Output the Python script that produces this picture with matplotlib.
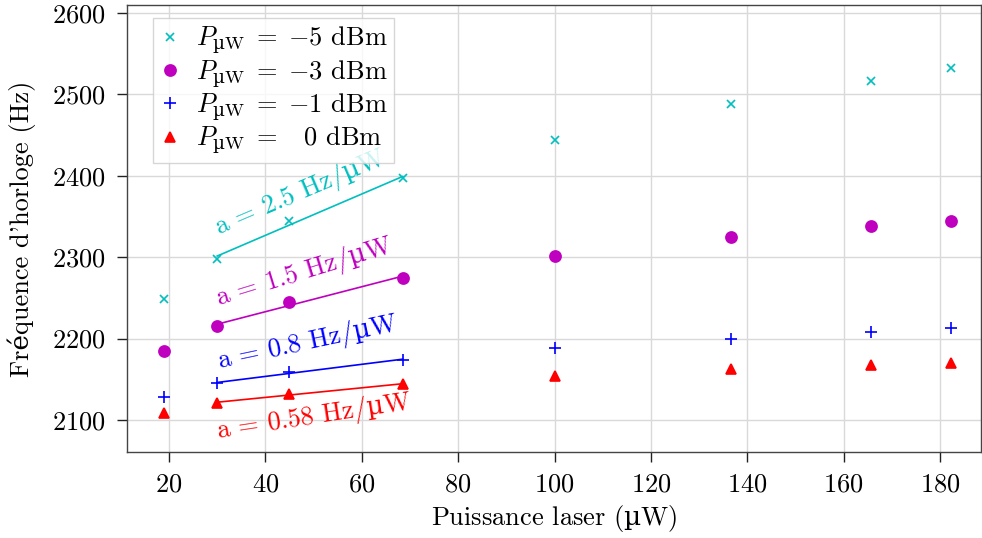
import numpy as np
import matplotlib
matplotlib.use("Agg")
import matplotlib.pyplot as plt

plt.rcParams['font.family'] = ['cmr10', 'DejaVu Serif']
plt.rcParams['mathtext.fontset'] = 'custom'
plt.rcParams['mathtext.rm'] = 'cmr10'
plt.rcParams['mathtext.it'] = 'cmmi10'
plt.rcParams['mathtext.bf'] = 'cmb10'
plt.rcParams['mathtext.cal'] = 'cmsy10'
plt.rcParams['mathtext.tt'] = 'cmtt10'
plt.rcParams['mathtext.sf'] = 'DejaVu Serif'
plt.rcParams['mathtext.fallback'] = 'cm'
plt.rcParams['axes.formatter.use_mathtext'] = True

# Data
power_uW = [19, 30, 45, 68.5, 100, 136.7, 165.6, 182.2]
f_m5 = [2248, 2298, 2345, 2397, 2444, 2488, 2516, 2532]
f_m3 = [2185, 2215, 2245, 2275, 2302, 2325, 2338, 2345]
f_m1 = [2128, 2145, 2159, 2174, 2188, 2200, 2208, 2213]
f_0 = [2109, 2121, 2132, 2144, 2154, 2163, 2168, 2170]

MU = '$\\mathsf{\u00b5}$'
labels = [r'$P_{\mathsf{µ}\mathrm{W}}\;=\;{-}5$ dBm', r'$P_{\mathsf{µ}\mathrm{W}}\;=\;{-}3$ dBm',
          r'$P_{\mathsf{µ}\mathrm{W}}\;=\;{-}1$ dBm', r'$P_{\mathsf{µ}\mathrm{W}}\;=\;\ \ 0$ dBm']
slope_texts = ['a = 2.5 Hz/' + MU + 'W', 'a = 1.5 Hz/' + MU + 'W',
               'a = 0.8 Hz/' + MU + 'W', 'a = 0.58 Hz/' + MU + 'W']
text_pos = [(30.2, 2327), (30.2, 2241), (30.4, 2163), (30.2, 2078)]
text_rot = [23, 17, 12, 8.6]
colors = ['#00BFBF', '#BF00BF', '#0000FF', '#FF0000']
markers = ['x', 'o', '+', '^']
msizes = [6, 8, 8, 7]

fig = plt.figure(figsize=(9.82, 5.38), dpi=100)
ax = fig.add_axes([0.1293, 0.1599, 0.8697, 0.8309])

series = [f_m5, f_m3, f_m1, f_0]
x = np.array(power_uW)
for ys, c, m, ms, lab, st, tp, tr in zip(series, colors, markers, msizes, labels,
                                           slope_texts, text_pos, text_rot):
    ys = np.array(ys)
    ax.plot(x, ys, linestyle='none', marker=m, color=c, markersize=ms,
            markeredgewidth=1.2, label=lab)
    sel = slice(1, 4)
    p = np.polyfit(x[sel], ys[sel], 1)
    xx = np.array([x[1], x[3]])
    ax.plot(xx, np.polyval(p, xx), color=c, linewidth=1.2)
    ax.text(tp[0], tp[1], st, color=c, fontsize=19, rotation=tr,
            rotation_mode='anchor', ha='left', va='baseline')

ax.set_xlim(11.28, 188.5)
ax.set_ylim(2060.7, 2609.8)
ax.set_xticks([20, 40, 60, 80, 100, 120, 140, 160, 180])
ax.set_yticks([2100, 2200, 2300, 2400, 2500, 2600])
ax.grid(True, color='#d9d9d9', linewidth=1)
ax.set_axisbelow(True)
for s in ax.spines.values():
    s.set_color('#444444')
    s.set_linewidth(1.0)
ax.tick_params(direction='out', length=7, width=1, color='#222222', labelsize=19, pad=8)
ax.set_xlabel('Puissance laser (' + MU + 'W)', fontsize=19, labelpad=5)
ax.set_ylabel("Fréquence d'horloge (Hz)", fontsize=19, labelpad=12)

leg = ax.legend(loc='upper left', bbox_to_anchor=(0.030, 0.971), borderaxespad=0,
                fontsize=19, frameon=True, fancybox=False, edgecolor='#cccccc',
                handletextpad=0.6, handlelength=0.8, borderpad=0.25, labelspacing=0.05)
leg.get_frame().set_linewidth(1.0)

fig.savefig('out.png', dpi=100)
